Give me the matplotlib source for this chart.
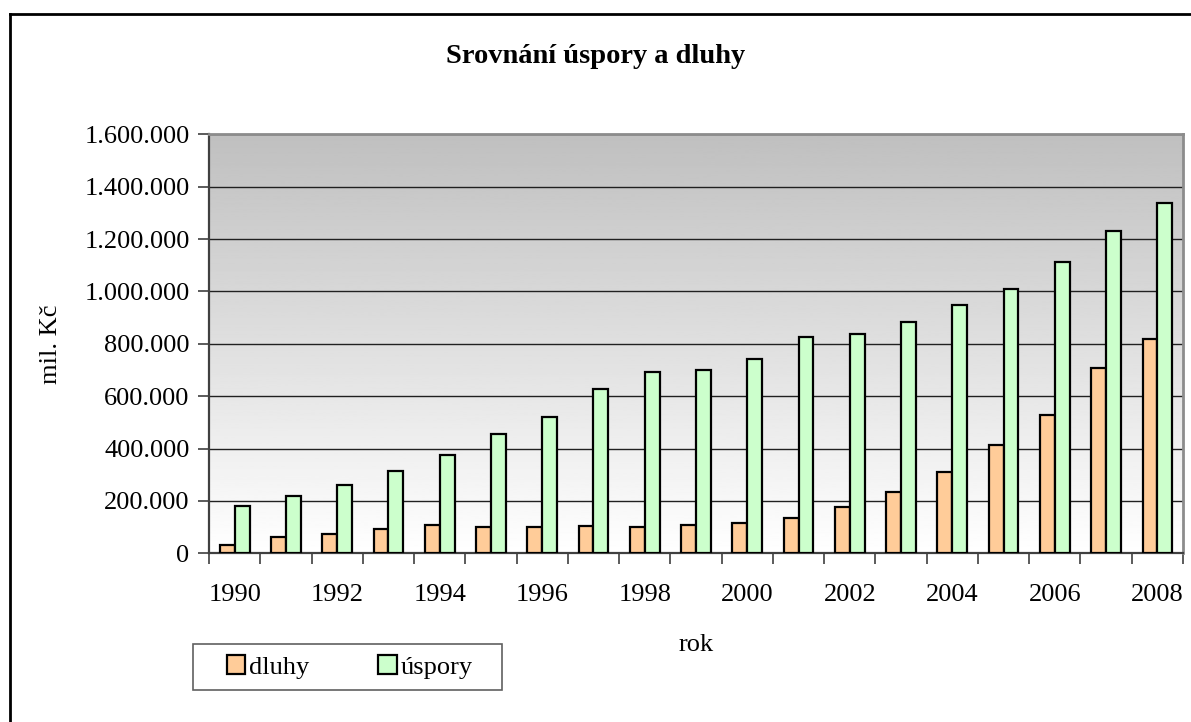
import numpy as np
import matplotlib.pyplot as plt
from matplotlib.lines import Line2D
from matplotlib.patches import Rectangle
from matplotlib.ticker import FuncFormatter, FixedLocator

# Household savings vs. debts (mil. Kč)
years = list(range(1990, 2009))
dluhy = [32000, 63000, 72000, 93000, 107000, 102000, 102000, 104000, 102000, 109000,
         117000, 136000, 178000, 234000, 310000, 412000, 529000, 706000, 818000]
uspory = [182000, 219000, 259000, 314000, 375000, 454000, 520000, 627000, 693000, 698000,
          742000, 824000, 837000, 884000, 950000, 1011000, 1113000, 1230000, 1338000]

plt.rcParams['font.family'] = ['Liberation Serif', 'DejaVu Serif']

W, H = 1191, 722
fig = plt.figure(figsize=(W / 100, H / 100), dpi=100)
ax = fig.add_axes([0.1755, 0.2337, 0.8178, 0.5803])

x = np.arange(len(years))
w = 0.29
ax.bar(x - w / 2, dluhy, w, color='#FFCC99', edgecolor='black', linewidth=1.6,
       label='dluhy', zorder=3)
ax.bar(x + w / 2, uspory, w, color='#CCFFCC', edgecolor='black', linewidth=1.6,
       label='úspory', zorder=3)

ax.set_xlim(-0.5, len(years) - 0.5)
ax.set_ylim(0, 1600000)

# gray-to-white gradient behind the bars
grad = np.linspace(1.0, 0.75, 256).reshape(-1, 1)
ax.imshow(grad, extent=[0, 1, 0, 1], transform=ax.transAxes, origin='lower',
          cmap='gray', vmin=0, vmax=1, aspect='auto', zorder=0)

ax.set_yticks(np.arange(0, 1600001, 200000))
ax.yaxis.set_major_formatter(FuncFormatter(lambda v, p: f"{int(v):,}".replace(',', '.')))
ax.grid(axis='y', color='#202020', linewidth=1.0, zorder=1)

# year labels every second year, ticks on category boundaries
ax.xaxis.set_major_locator(FixedLocator(x[::2]))
ax.set_xticklabels([str(y) for y in years[::2]])
ax.xaxis.set_minor_locator(FixedLocator(np.arange(len(years) + 1) - 0.5))
ax.tick_params(axis='x', which='major', length=0, pad=22, labelsize=19)
ax.tick_params(axis='x', which='minor', length=8, width=1.2, color='#404040')
ax.tick_params(axis='y', length=8, width=1.2, color='#404040', labelsize=19, pad=6)

for s in ['top', 'right']:
    ax.spines[s].set_color('#8c8c8c')
    ax.spines[s].set_linewidth(2)
for s in ['left', 'bottom']:
    ax.spines[s].set_color('#404040')
    ax.spines[s].set_linewidth(1.6)

ax.set_xlabel('rok', fontsize=19, labelpad=20)
ax.set_ylabel('mil. Kč', fontsize=19, labelpad=16)
fig.text(0.5, 1 - 63 / H, 'Srovnání úspory a dluhy', ha='center', va='baseline',
         fontsize=20.5, fontweight='bold')

# legend entries without their own frame; the box is drawn separately
leg = fig.legend(loc='center left', bbox_to_anchor=(227 / W, 1 - 667 / H),
                 ncol=2, fontsize=19, frameon=False,
                 handlelength=0.7, handleheight=0.7, handletextpad=0.15,
                 columnspacing=2.6, borderpad=0, borderaxespad=0)
fig.add_artist(Rectangle((193 / W, 1 - 690 / H), 309 / W, 46 / H,
                         transform=fig.transFigure, facecolor='white',
                         edgecolor='#606060', linewidth=1.2, zorder=-1))

# outer chart border (left and top edges)
fig.add_artist(Line2D([9.5 / W, 9.5 / W], [0, 1 - 13.5 / H],
                      transform=fig.transFigure, color='black', linewidth=2))
fig.add_artist(Line2D([9.5 / W, 1], [1 - 13.5 / H, 1 - 13.5 / H],
                      transform=fig.transFigure, color='black', linewidth=2))

fig.savefig('out.png', dpi=100)
